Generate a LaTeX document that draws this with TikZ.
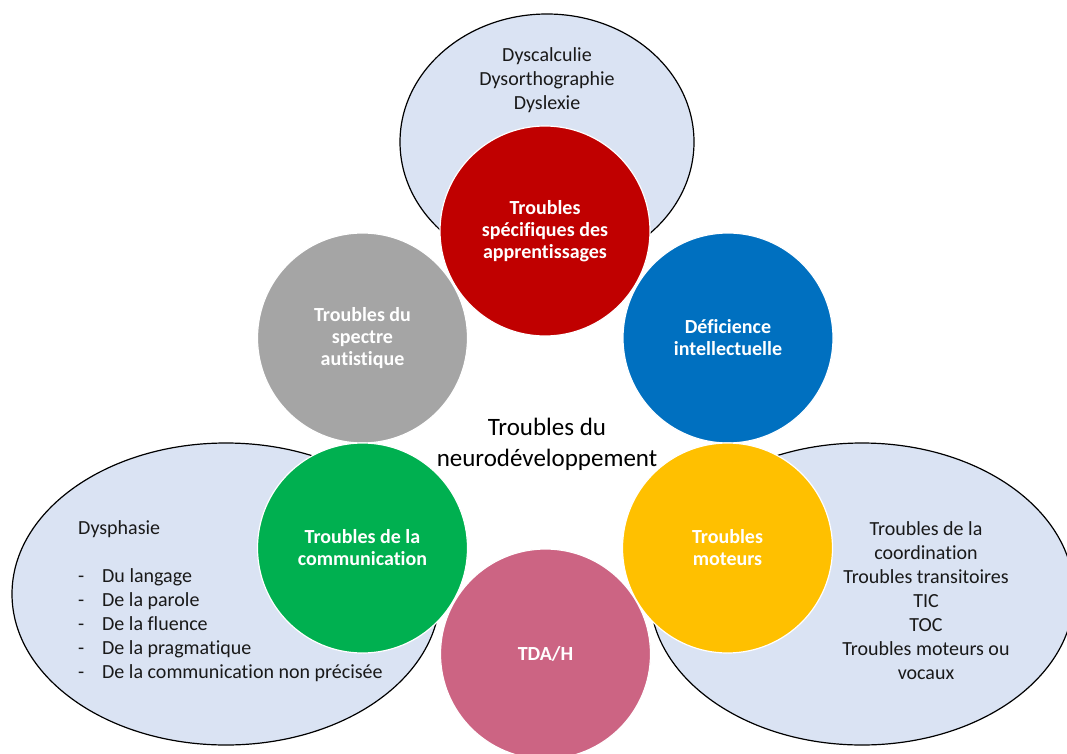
\documentclass[tikz,border=0pt]{standalone}
\usepackage{fontspec}
\setmainfont{Carlito}[Ligatures=NoCommon]
\usepackage{tikz}
\usetikzlibrary{positioning,shapes.geometric}

\definecolor{palebleu}{HTML}{DAE3F3}
\definecolor{rouge}{HTML}{C00000}
\definecolor{bleu}{HTML}{0070C0}
\definecolor{gris}{HTML}{A5A5A5}
\definecolor{vert}{HTML}{00B050}
\definecolor{jaune}{HTML}{FFC000}
\definecolor{rose}{HTML}{CC6483}

\begin{document}
\begin{tikzpicture}[x=1pt, y=-1pt,
		bulle/.style={ellipse, draw=black, line width=1.2pt, fill=palebleu, inner sep=0pt},
		disque/.style={circle, draw=white, line width=1.2pt, minimum size=210pt, inner sep=0pt, text=white, align=center, font=\fontsize{20}{22}\selectfont\bfseries},
		liste/.style={text=black!90, inner sep=0pt, font=\fontsize{20}{24}\selectfont}]
		\useasboundingbox (0,0) rectangle (1067,754);
		% ellipses de fond
		\node[bulle, minimum width=294pt, minimum height=256pt] (haut) at (547,142) {};
		\node[bulle, minimum width=428pt, minimum height=302pt] (gauche) at (226,594) {};
		\node[bulle, minimum width=424pt, minimum height=302pt] (droite) at (862,594) {};
		\node[liste, align=center] (apprent) at (547,80) {Dyscalculie\\Dysorthographie\\Dyslexie};
		\node[liste, align=left, anchor=west] (dysph) at (78,601) {Dysphasie\\[24pt]
			\makebox[24pt][l]{-}Du langage\\
			\makebox[24pt][l]{-}De la parole\\
			\makebox[24pt][l]{-}De la fluence\\
			\makebox[24pt][l]{-}De la pragmatique\\
			\makebox[24pt][l]{-}De la communication non précisée};
		\node[liste, align=center] (moteur) at (926,601) {Troubles de la\\coordination\\Troubles transitoires\\TIC\\TOC\\Troubles moteurs ou\\vocaux};
		% cercles
		\node[disque, fill=rouge] (tsa) at (545,231) {Troubles\\spécifiques des\\apprentissages};
		\node[disque, fill=gris] (tsp) at (362.5,338) {Troubles du\\spectre\\autistique};
		\node[disque, fill=bleu] (di) at (728,338) {Déficience\\intellectuelle};
		\node[disque, fill=vert] (tc) at (362.5,548) {Troubles de la\\communication};
		\node[disque, fill=jaune] (tm) at (727.5,548) {Troubles\\moteurs};
		\node[disque, fill=rose] (tdah) at (545.5,654) {TDA/H};
		\node[text=black, align=center, font=\fontsize{25}{31}\selectfont] (tnd) at (547,444) {Troubles du\\neurodéveloppement};
	\end{tikzpicture}
\end{document}
